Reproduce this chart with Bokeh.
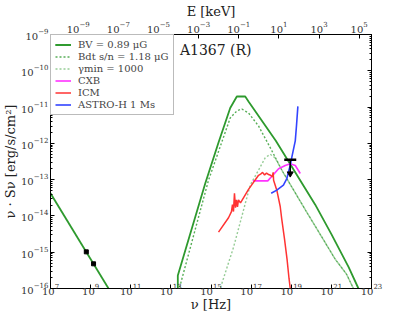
import numpy as np
from bokeh.plotting import figure
from bokeh.models import (Range1d, LogScale, LogAxis, FixedTicker, Label,
                          CustomJSTickFormatter, Legend)
from bokeh.embed import file_html
from bokeh.resources import INLINE

# ---------------- data (log10 values) ----------------
# synchrotron (radio) part of the B_V model
lnu_radio = [7.0, 10.0]
lS_radio = [-13.376, -16.097]

# B_V = 0.89 muG inverse-Compton model
lnu_bv = [13.346, 13.346, 14.712, 15.375, 15.958, 16.287, 16.706, 16.87,
          18.23, 20.195, 21.0, 21.86, 22.35, 22.5]
lS_bv = [-16.3, -15.64, -13.105, -11.976, -11.027, -10.709, -10.709, -10.845,
         -11.93, -13.69, -14.5, -15.41, -16.0, -16.3]

# B_dt^{s/n} = 1.18 muG model
lnu_bdt = [13.40, 13.42, 14.876, 15.958, 16.3, 16.54, 16.87, 17.37, 18.03,
           18.53, 19.70, 21.2, 21.75, 22.1, 22.25]
lS_bdt = [-16.3, -16.0, -13.015, -11.30, -11.1, -11.054, -11.162, -11.52,
          -12.20, -12.74, -13.83, -15.2, -15.6, -16.0, -16.3]

# gamma_min = 1000 model
lnu_gmin = [15.40, 15.46, 16.12, 16.955, 17.37, 17.7, 17.95, 18.2, 18.53,
            19.70, 21.2, 21.75, 22.1, 22.25]
lS_gmin = [-16.3, -16.0, -14.87, -13.15, -12.74, -12.40, -12.30, -12.40,
           -12.74, -13.83, -15.2, -15.6, -16.0, -16.3]

# CXB
lnu_cxb = [17.085, 17.83, 18.37, 18.70, 18.95, 19.20, 19.45]
lS_cxb = [-13.034, -13.034, -12.70, -12.61, -12.56, -12.61, -12.83]

# ICM
lnu_icm = [15.375, 15.873, 16.02, 16.07, 16.12, 16.17, 16.22, 16.27, 16.32,
           16.37, 16.47, 16.87, 17.37, 17.47, 17.57, 17.67, 17.77, 17.87,
           17.97, 18.05, 18.10, 18.12, 18.28, 18.45, 18.53, 18.665, 18.79,
           18.89, 18.95, 18.99]
lS_icm = [-14.445, -14.05, -13.88, -13.69, -13.88, -13.376, -13.77, -13.56,
          -13.75, -13.56, -13.64, -13.27, -12.88, -12.85, -12.80, -12.87,
          -12.82, -12.86, -12.88, -12.92, -12.80, -13.015, -13.29, -13.74,
          -14.10, -14.64, -15.19, -15.73, -16.0, -16.27]

# ASTRO-H 1 Ms sensitivity
lnu_ah = [18.0, 18.28, 18.61, 18.78, 18.86, 18.95, 19.03, 19.20, 19.26, 19.33]
lS_ah = [-13.376, -13.29, -13.15, -12.97, -12.79, -12.61, -12.38, -11.93,
         -11.52, -10.98]

# radio measurements
lnu_radio_pts = [8.785, 9.146]
lS_radio_pts = [-14.99, -15.32]

# hard X-ray upper limit
lnu_ul = [18.95]
lS_ul = [-12.454]

x_ticks = [7, 9, 11, 13, 15, 17, 19, 21, 23]
y_ticks = [-16, -15, -14, -13, -12, -11, -10, -9]
e_ticks = [-9, -7, -5, -3, -1, 1, 3, 5]
HZ_PER_KEV = 2.418e17


def p10(a):
    return 10.0 ** np.asarray(a, dtype=float)


FONT = "DejaVu Serif"
GREEN = "#2e9a2e"

p = figure(frame_width=321, frame_height=254, x_axis_type="log", y_axis_type="log",
           x_range=Range1d(1e7, 1e23), y_range=Range1d(1e-16, 1e-9),
           output_backend="svg", toolbar_location=None,
           min_border_left=44, min_border_right=34, min_border_top=20,
           min_border_bottom=10)
p.grid.visible = False
p.outline_line_color = "black"
p.background_fill_color = "white"

p.extra_x_ranges = {"E": Range1d(1e7 / HZ_PER_KEV, 1e23 / HZ_PER_KEV)}
p.extra_x_scales = {"E": LogScale()}

minor_y = [k * 10.0 ** n for n in range(-16, -9) for k in range(2, 10)]

bottom = p.below[0]
left = p.left[0]
bottom.ticker = FixedTicker(ticks=list(p10(x_ticks)), minor_ticks=[])
left.ticker = FixedTicker(ticks=list(p10(y_ticks)), minor_ticks=minor_y)
bottom.axis_label = "ν [Hz]"
left.axis_label = "ν · Sν [erg/s/cm²]"

top = LogAxis(x_range_name="E", axis_label="E [keV]",
              ticker=FixedTicker(ticks=list(p10(e_ticks)), minor_ticks=[]))
p.add_layout(top, "above")
right = LogAxis(ticker=FixedTicker(ticks=list(p10(y_ticks)), minor_ticks=minor_y),
                formatter=CustomJSTickFormatter(code="return ''"))
p.add_layout(right, "right")

for ax in [bottom, left, top, right]:
    ax.major_tick_in = 4
    ax.major_tick_out = 0
    ax.minor_tick_in = 2
    ax.minor_tick_out = 0
    ax.axis_line_color = "black"
    ax.major_label_text_font = FONT
    ax.major_label_text_font_size = "10px"
    ax.major_label_text_color = "#333333"
    ax.axis_label_text_font = FONT
    ax.axis_label_text_font_size = "13px"
    ax.axis_label_text_font_style = "normal"
    ax.axis_label_text_color = "#222222"
    ax.major_label_standoff = 2
    ax.axis_label_standoff = 0
right.major_label_standoff = 0
bottom.major_label_standoff = -5
bottom.axis_label_standoff = -1

# ---------------- glyphs ----------------
r_bv1 = p.line(p10(lnu_radio), p10(lS_radio), line_color=GREEN, line_width=1.8)
r_bv2 = p.line(p10(lnu_bv), p10(lS_bv), line_color=GREEN, line_width=1.8)
r_bdt = p.line(p10(lnu_bdt), p10(lS_bdt), line_color=GREEN, line_width=1.4,
               line_dash="2 2", line_alpha=0.8)
r_gmin = p.line(p10(lnu_gmin), p10(lS_gmin), line_color=GREEN, line_width=1.4,
                line_dash="2 2", line_alpha=0.5)
r_cxb = p.line(p10(lnu_cxb), p10(lS_cxb), line_color="#ff33ff", line_width=1.6)
r_icm = p.line(p10(lnu_icm), p10(lS_icm), line_color="#ff3333", line_width=1.5)
r_ah = p.line(p10(lnu_ah), p10(lS_ah), line_color="#3344ff", line_width=1.6)

p.scatter(p10(lnu_radio_pts), p10(lS_radio_pts), marker="square", size=4,
          color="black")
ul_x = p10(lnu_ul)
ul_y = p10(lS_ul)
p.segment(ul_x, ul_y, ul_x, ul_y * 10 ** -0.38, line_color="black", line_width=1.5)
p.scatter(ul_x, ul_y, marker="dash", size=12, line_width=2.5, color="black")
p.scatter(ul_x, ul_y * 10 ** -0.38, marker="inverted_triangle", size=6,
          color="black")

p.add_layout(Label(x=10 ** 13.45, y=10 ** -9.22, text="A1367 (R)", text_font=FONT,
                   text_font_size="14px", text_baseline="top",
                   text_color="#222222"))

legend = Legend(items=[
    ("BV = 0.89 μG", [r_bv1, r_bv2]),
    ("Bdt s/n = 1.18 μG", [r_bdt]),
    ("γmin = 1000", [r_gmin]),
    ("CXB", [r_cxb]),
    ("ICM", [r_icm]),
    ("ASTRO-H 1 Ms", [r_ah]),
], location="top_left")
legend.margin = 0
legend.padding = 4
legend.spacing = 1
legend.label_height = 11
legend.glyph_height = 11
legend.glyph_width = 16
legend.label_standoff = 7
legend.label_text_font = FONT
legend.label_text_font_size = "10px"
legend.border_line_color = "#777777"
legend.border_line_width = 1
legend.background_fill_alpha = 1.0
p.add_layout(legend)

open("out.html", "w").write(file_html(p, INLINE))
